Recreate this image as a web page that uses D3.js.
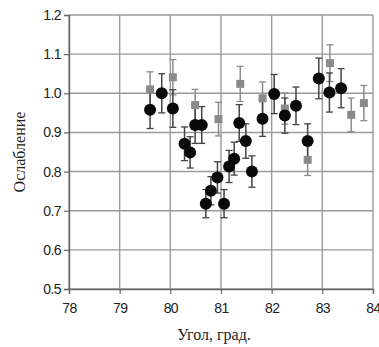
<!DOCTYPE html>
<html>
<head>
<meta charset="utf-8">
<script src="https://cdn.jsdelivr.net/npm/d3@7"></script>
<style>
  body { margin: 0; background: #fff; }
  svg text { fill: #222; }
</style>
</head>
<body>
<svg id="chart" width="379" height="347"></svg>
<script>
// черные точки (серия 1)
const blackX = [79.60, 79.83, 80.05, 80.28, 80.39, 80.49, 80.62, 80.70, 80.80, 80.93, 81.06, 81.16,
                81.26, 81.36, 81.49, 81.61, 81.82, 82.05, 82.26, 82.48, 82.71, 82.93, 83.14, 83.37];
const blackY = [0.958, 1.000, 0.961, 0.871, 0.849, 0.919, 0.919, 0.718, 0.751, 0.785, 0.718, 0.813,
                0.833, 0.924, 0.878, 0.800, 0.935, 0.998, 0.943, 0.968, 0.878, 1.038, 1.002, 1.013];
const blackErr = [0.048, 0.050, 0.048, 0.043, 0.040, 0.047, 0.047, 0.036, 0.036, 0.040, 0.036, 0.041,
                  0.042, 0.047, 0.044, 0.040, 0.045, 0.050, 0.045, 0.048, 0.044, 0.052, 0.050, 0.050];

// серые квадраты (серия 2)
const grayX = [79.60, 80.05, 80.49, 80.95, 81.38, 81.82, 82.26, 82.71, 83.15, 83.57, 83.82];
const grayY = [1.010, 1.041, 0.970, 0.934, 1.024, 0.987, 0.961, 0.830, 1.077, 0.945, 0.975];
const grayErr = [0.045, 0.045, 0.040, 0.043, 0.045, 0.042, 0.040, 0.040, 0.047, 0.043, 0.045];

const xTicks = [78, 79, 80, 81, 82, 83, 84];
const yTicks = [0.5, 0.6, 0.7, 0.8, 0.9, 1.0, 1.1, 1.2];

const svg = d3.select("#chart");
const width = 379, height = 347;
const margin = { top: 15, right: 6, bottom: 58, left: 69 };

const x = d3.scaleLinear()
    .domain([78, 84])
    .range([margin.left, width - margin.right]);

const y = d3.scaleLinear()
    .domain([0.5, 1.2])
    .range([height - margin.bottom, margin.top]);

// сетка
svg.append("g")
    .selectAll("line")
    .data(xTicks)
    .join("line")
    .attr("x1", d => x(d)).attr("x2", d => x(d))
    .attr("y1", y(1.2)).attr("y2", y(0.5))
    .attr("stroke", "#9a9a9a")
    .attr("stroke-width", 1.4);

svg.append("g")
    .selectAll("line")
    .data(yTicks)
    .join("line")
    .attr("x1", x(78)).attr("x2", x(84))
    .attr("y1", d => y(d)).attr("y2", d => y(d))
    .attr("stroke", "#9a9a9a")
    .attr("stroke-width", 1.4);

// оси
const xAxis = svg.append("g")
    .attr("transform", `translate(0, ${y(0.5)})`)
    .call(d3.axisBottom(x).tickValues(xTicks).tickFormat(d3.format("d")).tickSize(5).tickPadding(9));

const yAxis = svg.append("g")
    .attr("transform", `translate(${x(78)}, 0)`)
    .call(d3.axisLeft(y).tickValues(yTicks).tickFormat(d3.format(".1f")).tickSize(5).tickPadding(3));

[xAxis, yAxis].forEach(g => {
    g.select(".domain").attr("stroke", "#666").attr("stroke-width", 1.4);
    g.selectAll(".tick line").attr("stroke", "#666").attr("stroke-width", 1.2);
    g.selectAll(".tick text")
        .attr("fill", "#222")
        .style("font-family", "'Liberation Sans', Arial, sans-serif")
        .style("font-size", "14px")
        .style("letter-spacing", "-0.6px");
});

// погрешности
function errorBars(xs, ys, es, color) {
    const g = svg.append("g");
    const pts = xs.map((d, i) => ({ x: d, y: ys[i], e: es[i] }));
    g.selectAll("line.v").data(pts).join("line")
        .attr("x1", d => x(d.x)).attr("x2", d => x(d.x))
        .attr("y1", d => y(d.y + d.e)).attr("y2", d => y(d.y - d.e))
        .attr("stroke", color).attr("stroke-width", 1.5);
    [1, -1].forEach(s => {
        g.selectAll("line.c" + s).data(pts).join("line")
            .attr("x1", d => x(d.x) - 3.5).attr("x2", d => x(d.x) + 3.5)
            .attr("y1", d => y(d.y + s * d.e)).attr("y2", d => y(d.y + s * d.e))
            .attr("stroke", color).attr("stroke-width", 1.3);
    });
}

errorBars(grayX, grayY, grayErr, "#8c8c8c");
errorBars(blackX, blackY, blackErr, "#444");

svg.append("g")
    .selectAll("rect")
    .data(grayX.map((d, i) => [d, grayY[i]]))
    .join("rect")
    .attr("x", d => x(d[0]) - 4)
    .attr("y", d => y(d[1]) - 4)
    .attr("width", 8)
    .attr("height", 8)
    .attr("fill", "#8a8a8a");

svg.append("g")
    .selectAll("circle")
    .data(blackX.map((d, i) => [d, blackY[i]]))
    .join("circle")
    .attr("cx", d => x(d[0]))
    .attr("cy", d => y(d[1]))
    .attr("r", 6)
    .attr("fill", "#0a0a0a");

// подписи осей
svg.append("text")
    .attr("x", 214)
    .attr("y", 340)
    .attr("text-anchor", "middle")
    .style("font-family", "'Liberation Serif', 'Times New Roman', serif")
    .style("font-size", "16px")
    .text("Угол, град.");

svg.append("text")
    .attr("transform", `translate(25, ${y(0.85)}) rotate(-90)`)
    .attr("text-anchor", "middle")
    .style("font-family", "'Liberation Serif', 'Times New Roman', serif")
    .style("font-size", "16px")
    .text("Ослабление");
</script>
</body>
</html>
